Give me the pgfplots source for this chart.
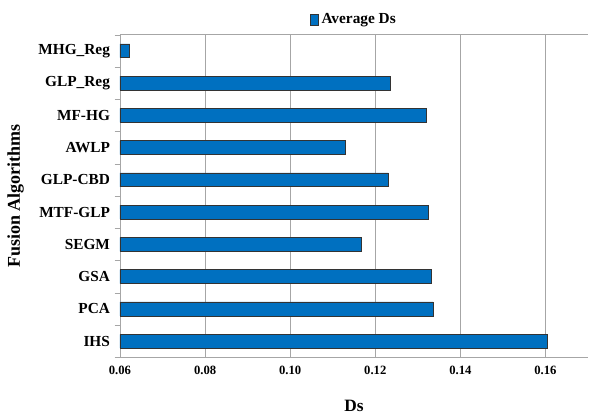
\documentclass[border=0pt]{standalone}
\usepackage{fontspec}
\setmainfont{Liberation Serif}
\usepackage{pgfplots}
\usetikzlibrary{calc}
\pgfplotsset{compat=1.18}
\definecolor{xlblue}{RGB}{0,112,192}
\begin{document}
\begin{tikzpicture}
\begin{axis}[
  name=ax,
  scale only axis,
  width=351pt, height=242pt,
  xbar, bar width=0.43,
  xmin=0.06, xmax=0.17,
  ymin=-0.5, ymax=9.5,
  xtick={0.06,0.08,0.10,0.12,0.14,0.16},
  xticklabels={0.06,0.08,0.10,0.12,0.14,0.16},
  ytick={0,...,9},
  yticklabels={IHS,PCA,GSA,SEGM,MTF-GLP,GLP-CBD,AWLP,MF-HG,GLP\_Reg,MHG\_Reg},
  major tick length=0pt,
  extra y ticks={-0.5,0.5,1.5,2.5,3.5,4.5,5.5,6.5,7.5,8.5,9.5},
  extra y tick labels={},
  extra y tick style={major tick length=4pt, tick align=outside, tick style={gray!70}},
  xmajorgrids, grid style={gray!70, line width=0.6pt},
  axis x line*=bottom,
  axis y line*=left,
  axis line style={gray!70},
  /pgf/number format/assume math mode=true,
  xticklabel style={font=\fontsize{9.5}{10}\selectfont\bfseries, yshift=-3pt},
  yticklabel style={font=\fontsize{11.5}{12}\selectfont\bfseries, xshift=-4pt},
  xlabel={Ds}, ylabel={Fusion Algorithms},
  xlabel style={font=\fontsize{13}{14}\selectfont\bfseries, yshift=-12pt},
  ylabel style={font=\fontsize{13.5}{14}\selectfont\bfseries, yshift=0pt},
  legend style={at={(0.5,1.01)}, anchor=south, draw=none, fill=none,
    font=\fontsize{11.5}{12}\selectfont\bfseries},
  legend image code/.code={\fill[xlblue,draw=black!80] (0pt,-4pt) rectangle (6.5pt,4pt);},
]
\addplot[fill=xlblue, draw=black!80, line width=0.5pt] coordinates {
(0.1605,0) (0.1336,1) (0.1331,2) (0.1168,3) (0.1324,4)
(0.1231,5) (0.1130,6) (0.1320,7) (0.1236,8) (0.0623,9)};
\addlegendentry{Average Ds}
\draw[gray!70, line width=0.6pt] (rel axis cs:0,1) -- (rel axis cs:1,1);
\end{axis}
\path ($(ax.south west)+(-90pt,-44pt)$) rectangle ($(ax.north east)+(1.5pt,26pt)$);
\end{tikzpicture}
\end{document}
